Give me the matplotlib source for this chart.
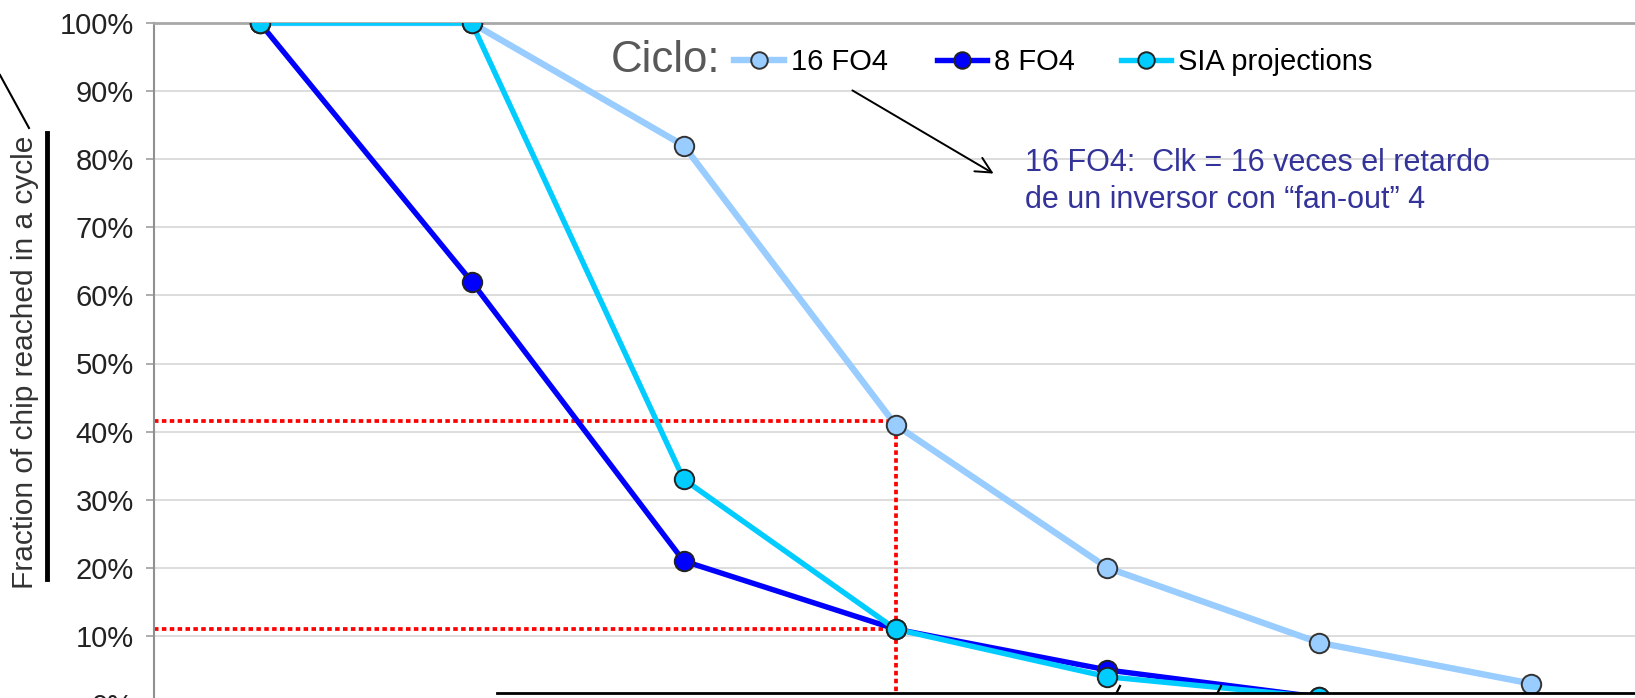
import matplotlib.pyplot as plt
from matplotlib.patches import Rectangle
from matplotlib.lines import Line2D
from matplotlib.ticker import PercentFormatter

# Data
steps = [0, 1, 2, 3, 4, 5, 6]
fo4_16 = [100, 100, 82, 41, 20, 9, 3]
fo4_8 = [100, 62, 21, 11, 5, 1, 0]
sia = [100, 100, 33, 11, 4, 1, 0]
labels = ['16 FO4', '8 FO4', 'SIA projections']

# red guide lines (read at step 3)
guide_x = 3
guide_hi = 41.5
guide_lo = 11

W, H = 1635, 698
fig = plt.figure(figsize=(W / 100, H / 100), dpi=100)

# plot area: left edge at x=154px, 100% at y=23px, 0% falls just below the figure
ax = fig.add_axes([154 / W, (H - 704) / H, (1637 - 154) / W, (704 - 23) / H])

l1, = ax.plot(steps, fo4_16, color='#99CCFF', lw=4.6, marker='o', ms=14,
              mfc='#99CCFF', mec='#333333', mew=1.4, label=labels[0], zorder=3)
l2, = ax.plot(steps, fo4_8, color='#0000FF', lw=3.9, marker='o', ms=14,
              mfc='#0000FF', mec='#222222', mew=1.4, label=labels[1], zorder=4)
l3, = ax.plot(steps, sia, color='#00CCFF', lw=3.9, marker='o', ms=14,
              mfc='#00CCFF', mec='#222222', mew=1.4, label=labels[2], zorder=5)

# dotted red guides
red = dict(color='#FF0000', lw=2.7, ls=(0, (1.2, 0.9)), zorder=2)
ax.plot([-0.5, guide_x], [guide_hi, guide_hi], **red)
ax.plot([-0.5, guide_x], [guide_lo, guide_lo], **red)
ax.plot([guide_x, guide_x], [0, guide_hi], **red)

ax.set_xlim(-0.5, 6.5)
ax.set_ylim(0, 100)
ax.set_yticks(range(0, 101, 10))
ax.yaxis.set_major_formatter(PercentFormatter(decimals=0))
ax.set_xticks([])
ax.tick_params(axis='y', length=6, width=1.2, color='#A0A0A0', pad=8.5,
               labelsize=21, labelcolor='#222222')
for t in ax.get_yticklabels():
    t.set_family('Liberation Sans')
ax.yaxis.grid(True, color='#DADADA', lw=1.3)
ax.set_axisbelow(True)
for s in ['right', 'bottom']:
    ax.spines[s].set_visible(False)
ax.spines['left'].set_color('#909090')
ax.spines['left'].set_linewidth(1.5)
ax.spines['top'].set_color('#A8A8A8')
ax.spines['top'].set_linewidth(2)

# legend: one entry per box, placed like the original
leg_x = [734, 937, 1121]
for h, lab, xp in zip([l1, l2, l3], labels, leg_x):
    fig.legend(handles=[h], labels=[lab], loc='center left',
               bbox_to_anchor=(xp / W, (H - 62) / H), frameon=False,
               handlelength=1.7, handletextpad=0.25, borderaxespad=0,
               borderpad=0, markerscale=0.85,
               prop={'family': 'Liberation Sans', 'size': 21})
fig.text(611 / W, (H - 61) / H, 'Ciclo:', fontsize=31.5, color='#595959',
         family='Liberation Sans', va='center', ha='left')

# note about FO4
fig.text(1025 / W, (H - 163) / H, '16 FO4:  Clk = 16 veces el retardo',
         fontsize=22, color='#333399', family='Liberation Sans', va='center')
fig.text(1025 / W, (H - 200) / H, 'de un inversor con \u201cfan-out\u201d 4',
         fontsize=22, color='#333399', family='Liberation Sans', va='center')
ax.annotate('', xy=(996 / W, (H - 175) / H), xytext=(850 / W, (H - 89) / H),
            xycoords='figure fraction', textcoords='figure fraction',
            arrowprops=dict(arrowstyle='->', color='black', lw=1.4,
                            mutation_scale=28))

# y label with bar and pointer line on the left
fig.text(25 / W, (H - 362) / H, 'Fraction of chip reached in a cycle',
         rotation=90, fontsize=21.5, family='Liberation Sans', va='center',
         ha='center', color='#333333')
fig.add_artist(Line2D([47 / W, 47 / W], [(H - 133) / H, (H - 579) / H],
                      transform=fig.transFigure, color='black', lw=3.5))
fig.add_artist(Line2D([0, 29 / W], [(H - 75) / H, (H - 128) / H],
                      transform=fig.transFigure, color='black', lw=1.5))

# box covering the bottom of the chart
fig.add_artist(Rectangle((497 / W, 0), 1, (H - 693) / H, transform=fig.transFigure,
                         facecolor='white', edgecolor='none', zorder=10))
fig.add_artist(Line2D([497 / W, 1], [(H - 693) / H, (H - 693) / H],
                      transform=fig.transFigure, color='black', lw=2, zorder=11))
# tops of cut letters below the box edge
for xp in [1117, 1218]:
    fig.add_artist(Line2D([xp / W, (xp + 3) / W], [(H - 692) / H, (H - 686) / H],
                          transform=fig.transFigure, color='black', lw=1.6,
                          zorder=12))

fig.savefig('out.png', dpi=100)
